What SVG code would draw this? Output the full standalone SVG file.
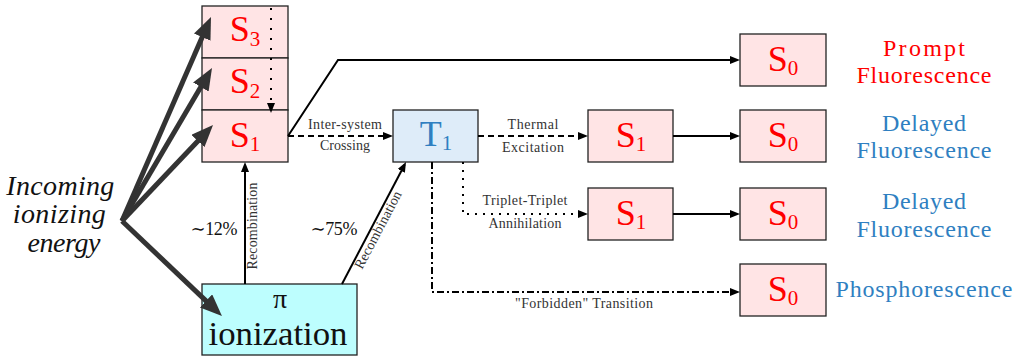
<svg xmlns="http://www.w3.org/2000/svg" width="1022" height="359" viewBox="0 0 1022 359">
<style>
  .box{stroke:#222;stroke-width:1.3}
  .sf{fill:#ffe4e5}
  .tf{fill:#deecf9}
  .pif{fill:#bdfefe}
  .lab{font-size:36px;text-anchor:middle}
  .red{fill:#ff0000}
  .blue{fill:#2f7fc1}
  .sub{font-size:21px}
  .small{font-size:14px;fill:#333;text-anchor:middle}
  .out{font-size:24px;text-anchor:middle}
  .blk{fill:#111;text-anchor:middle}
  .thick{stroke:#333;stroke-width:5;fill:none;marker-end:url(#mbig)}
  .thin{stroke:#000;stroke-width:2;fill:none;marker-end:url(#marr)}
</style>
<defs>
  <marker id="mbig" viewBox="0 0 22 18" refX="8" refY="9" markerWidth="22" markerHeight="18" markerUnits="userSpaceOnUse" orient="auto">
    <path d="M0,0 L22,9 L0,18 Z" fill="#333"/>
  </marker>
  <marker id="marr" viewBox="0 0 10 8" refX="7" refY="4" markerWidth="10" markerHeight="8" markerUnits="userSpaceOnUse" orient="auto">
    <path d="M0,0 L10,4 L0,8 Z" fill="#000"/>
  </marker>
</defs>
<rect width="1022" height="359" fill="#fff"/>

<g id="S3"><rect class="box sf" x="202" y="6" width="86" height="52"/><text font-family="Liberation Serif, serif" class="lab red" x="245" y="41">S<tspan class="sub" dy="5">3</tspan></text></g>
<g id="S2"><rect class="box sf" x="202" y="58" width="86" height="52"/><text font-family="Liberation Serif, serif" class="lab red" x="245" y="93">S<tspan class="sub" dy="5">2</tspan></text></g>
<g id="S1"><rect class="box sf" x="202" y="110" width="86" height="52"/><text font-family="Liberation Serif, serif" class="lab red" x="245" y="147">S<tspan class="sub" dy="4">1</tspan></text></g>
<g id="T1"><rect class="box tf" x="393" y="110" width="85" height="52"/><text font-family="Liberation Serif, serif" class="lab blue" x="436" y="146">T<tspan class="sub" dy="4">1</tspan></text></g>
<g id="S1b"><rect class="box sf" x="588" y="110" width="85" height="52"/><text font-family="Liberation Serif, serif" class="lab red" x="631" y="147">S<tspan class="sub" dy="4">1</tspan></text></g>
<g id="S1c"><rect class="box sf" x="588" y="188" width="85" height="52"/><text font-family="Liberation Serif, serif" class="lab red" x="631" y="225">S<tspan class="sub" dy="4">1</tspan></text></g>
<g id="S0a"><rect class="box sf" x="740" y="34" width="86" height="52"/><text font-family="Liberation Serif, serif" class="lab red" x="783" y="71">S<tspan class="sub" dy="4">0</tspan></text></g>
<g id="S0b"><rect class="box sf" x="740" y="110" width="86" height="52"/><text font-family="Liberation Serif, serif" class="lab red" x="783" y="147">S<tspan class="sub" dy="4">0</tspan></text></g>
<g id="S0c"><rect class="box sf" x="740" y="188" width="86" height="52"/><text font-family="Liberation Serif, serif" class="lab red" x="783" y="225">S<tspan class="sub" dy="4">0</tspan></text></g>
<g id="S0d"><rect class="box sf" x="740" y="264" width="86" height="52"/><text font-family="Liberation Serif, serif" class="lab red" x="783" y="301">S<tspan class="sub" dy="4">0</tspan></text></g>
<g id="PI"><rect class="box pif" x="202" y="284" width="155" height="71"/>
  <text font-family="Liberation Serif, serif" class="blk" x="280" y="308" font-size="28">π</text>
  <text font-family="Liberation Serif, serif" class="blk" x="278" y="345" font-size="33" textLength="139" lengthAdjust="spacingAndGlyphs">ionization</text></g>

<g id="incoming"><text font-family="Liberation Serif, serif" class="blk" font-size="28" font-style="italic">
  <tspan x="64" y="195" textLength="108">Incoming</tspan>
  <tspan x="63" y="223" textLength="93">ionizing</tspan>
  <tspan x="64" y="252" textLength="73">energy</tspan></text></g>

<g id="outlabels">
  <text font-family="Liberation Serif, serif" class="out red" x="924" y="56" textLength="82">Prompt</text>
  <text font-family="Liberation Serif, serif" class="out red" x="924" y="83" textLength="135">Fluorescence</text>
  <text font-family="Liberation Serif, serif" class="out blue" x="924" y="131" textLength="84">Delayed</text>
  <text font-family="Liberation Serif, serif" class="out blue" x="924" y="158" textLength="135">Fluorescence</text>
  <text font-family="Liberation Serif, serif" class="out blue" x="924" y="209" textLength="84">Delayed</text>
  <text font-family="Liberation Serif, serif" class="out blue" x="924" y="237" textLength="135">Fluorescence</text>
  <text font-family="Liberation Serif, serif" class="out blue" x="924" y="297" textLength="177">Phosphorescence</text>
</g>

<g id="connectors">
  <line class="thick" x1="122" y1="221" x2="205.4" y2="29.8"/>
  <line class="thick" x1="122" y1="221" x2="204.9" y2="80.1"/>
  <line class="thick" x1="122" y1="221" x2="203.4" y2="135.2"/>
  <line class="thick" x1="122" y1="221" x2="211.8" y2="306.4"/>
  <path class="thin" d="M271,8 L271,110" stroke-dasharray="2 8"/>
  <path class="thin" d="M288,136 L338,60 L737,60"/>
  <path class="thin" d="M288,136 L390,136" stroke-dasharray="6 4"/>
  <path class="thin" d="M478,136 L585,136" stroke-dasharray="6 4"/>
  <path class="thin" d="M463,162 L463,214 L585,214" stroke-dasharray="2 6"/>
  <path class="thin" d="M432,162 L432,292 L737,292" stroke-dasharray="7 3 2 3"/>
  <path class="thin" d="M673,136 L737,136"/>
  <path class="thin" d="M673,214 L737,214"/>
  <path class="thin" d="M245,284 L245,165"/>
  <path class="thin" d="M342,284 L404.6,164.7"/>
  <text font-family="Liberation Serif, serif" class="small" x="345" y="129" textLength="74">Inter-system</text>
  <text font-family="Liberation Serif, serif" class="small" x="345" y="150" textLength="50">Crossing</text>
  <text font-family="Liberation Serif, serif" class="small" x="533" y="129" textLength="51">Thermal</text>
  <text font-family="Liberation Serif, serif" class="small" x="533" y="152" textLength="62">Excitation</text>
  <text font-family="Liberation Serif, serif" class="small" x="525" y="205" textLength="85">Triplet-Triplet</text>
  <text font-family="Liberation Serif, serif" class="small" x="525" y="228" textLength="73">Annihilation</text>
  <text font-family="Liberation Serif, serif" class="small" x="584" y="308" textLength="138">"Forbidden" Transition</text>
  <text font-family="Liberation Serif, serif" class="small" font-size="12" transform="translate(257,226) rotate(-90)" x="0" y="0" textLength="87">Recombination</text>
  <text font-family="Liberation Serif, serif" class="small" font-size="12" transform="translate(382,232) rotate(-62.3)" x="0" y="0" textLength="86">Recombination</text>
  <text font-family="Liberation Serif, DejaVu Serif, serif" class="blk" x="214" y="235" font-size="18" textLength="47">∼12%</text>
  <text font-family="Liberation Serif, DejaVu Serif, serif" class="blk" x="334" y="235" font-size="18" textLength="47">∼75%</text>
</g>
</svg>
